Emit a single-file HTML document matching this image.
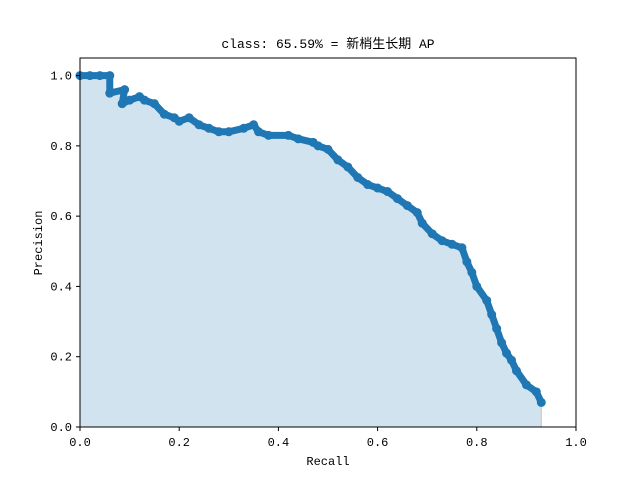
<!DOCTYPE html>
<html><head><meta charset="utf-8"><style>
body{margin:0;background:#fff;width:640px;height:480px;overflow:hidden}
svg text{font-family:"Liberation Mono","Noto Sans CJK SC",monospace;fill:#000}
</style></head><body>
<svg id="chart" width="640" height="480" xmlns="http://www.w3.org/2000/svg">
<rect x="0" y="0" width="640" height="480" fill="#fff"/>
<g id="plot"></g>
<rect x="80" y="58" width="496" height="369" fill="none" stroke="#000" stroke-width="1"/>
<g id="axes"></g>
<text x="328" y="48" font-size="13" text-anchor="middle">class: 65.59% = 新梢生长期 AP</text>
<text x="328" y="465" font-size="12" text-anchor="middle">Recall</text>
<text x="42" y="243" font-size="12" text-anchor="middle" transform="rotate(-90 42 243)">Precision</text>
</svg>
<script>
const recall=[0,0.02,0.04,0.06,0.06,0.09,0.085,0.1,0.12,0.13,0.15,0.17,0.19,0.2,0.22,0.24,0.26,0.28,0.3,0.33,0.35,0.36,0.38,0.42,0.44,0.47,0.48,0.5,0.52,0.54,0.56,0.58,0.6,0.62,0.64,0.66,0.68,0.69,0.71,0.73,0.75,0.77,0.78,0.79,0.8,0.82,0.83,0.84,0.85,0.86,0.87,0.88,0.9,0.92,0.93];
const precision=[1,1,1,1,0.95,0.96,0.92,0.93,0.94,0.93,0.92,0.89,0.88,0.87,0.88,0.86,0.85,0.84,0.84,0.85,0.86,0.84,0.83,0.83,0.82,0.81,0.8,0.79,0.76,0.74,0.71,0.69,0.68,0.67,0.65,0.63,0.61,0.58,0.55,0.53,0.52,0.51,0.47,0.44,0.4,0.36,0.32,0.28,0.24,0.21,0.19,0.16,0.12,0.1,0.07];
const xTicks=[0,0.2,0.4,0.6,0.8,1.0];
const yTicks=[0,0.2,0.4,0.6,0.8,1.0];
const X=v=>80+v*496, Y=v=>427-v*(369/1.05);
const NS="http://www.w3.org/2000/svg";
const plot=document.getElementById('plot'), axes=document.getElementById('axes');
function mk(t,a,p){const e=document.createElementNS(NS,t);for(const k in a)e.setAttribute(k,a[k]);p.appendChild(e);return e;}
let d=`M${X(0)},${Y(0)} `+recall.map((r,i)=>`L${X(r)},${Y(precision[i])}`).join(' ')+` L${X(recall[recall.length-1])},${Y(0)} Z`;
const area=mk('path',{d:d,fill:'#d2e3f0',stroke:'none'},plot);


const edge=mk('line',{x1:X(recall[recall.length-1]),y1:Y(precision[precision.length-1]),x2:X(recall[recall.length-1]),y2:Y(0),stroke:'#e8b0b0','stroke-width':1},plot);


const pts=recall.map((r,i)=>`${X(r)},${Y(precision[i])}`).join(' ');
const line=mk('polyline',{points:pts,fill:'none',stroke:'#1f77b4','stroke-width':7,'stroke-linejoin':'round','stroke-linecap':'round'},plot);


recall.forEach((r,i)=>{const c=mk('circle',{cx:X(r),cy:Y(precision[i]),r:4.5,fill:'#1f77b4'},plot);

});
xTicks.forEach(v=>{const l=mk('line',{x1:X(v),x2:X(v),y1:427,y2:431,stroke:'#000'},axes);


const t=mk('text',{x:X(v),y:446,'font-size':12,'text-anchor':'middle'},axes);t.textContent=v.toFixed(1);

});
yTicks.forEach(v=>{const l=mk('line',{x1:76,x2:80,y1:Y(v),y2:Y(v),stroke:'#000'},axes);


const t=mk('text',{x:72,y:Y(v)+4,'font-size':12,'text-anchor':'end'},axes);t.textContent=v.toFixed(1);

});
</script>
</body></html>
